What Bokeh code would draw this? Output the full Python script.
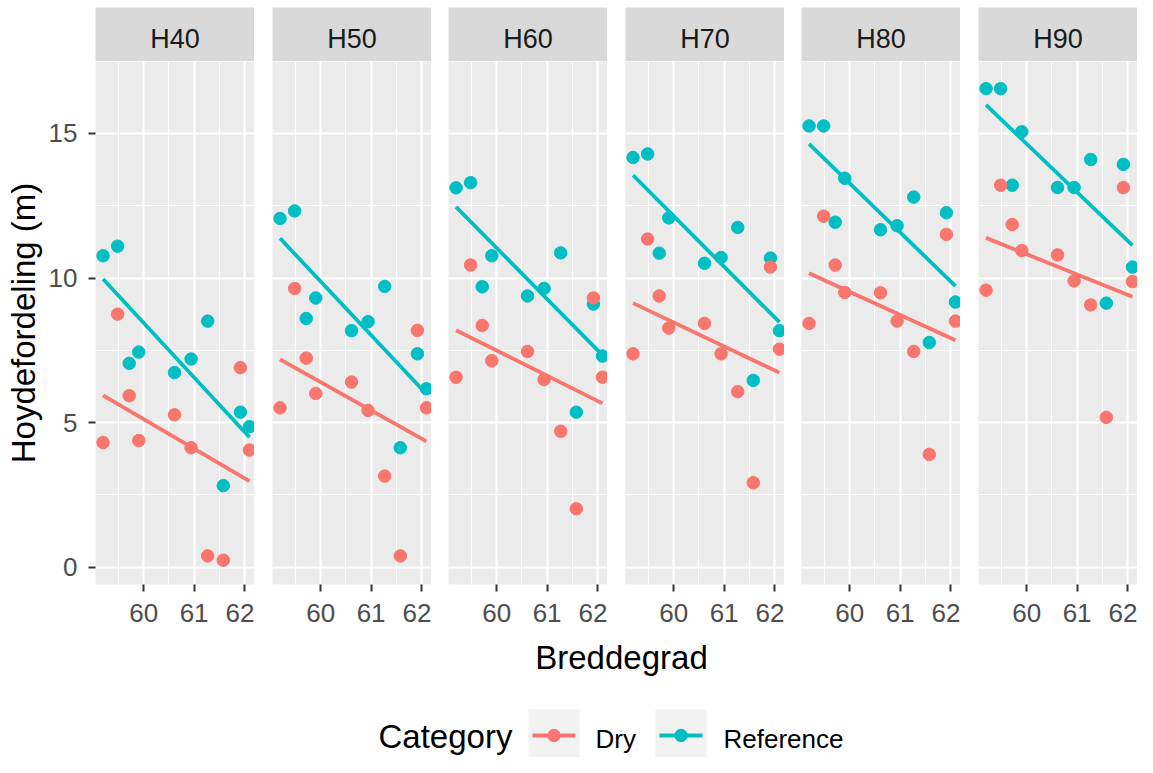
import numpy as np
from bokeh.plotting import figure
from bokeh.layouts import row, column
from bokeh.models import Range1d, FixedTicker
from bokeh.core.properties import value
from bokeh.embed import file_html
from bokeh.resources import INLINE

# ---------------- data ----------------
latitude = [59.19, 59.48, 59.71, 59.90, 60.61, 60.94, 61.27, 61.58, 61.92, 62.10]
panels = ["H40", "H50", "H60", "H70", "H80", "H90"]
categories = ["Dry", "Reference"]

dry_H40 = [4.31, 8.75, 5.93, 4.38, 5.27, 4.13, 0.39, 0.24, 6.90, 4.05]
ref_H40 = [10.77, 11.10, 7.05, 7.44, 6.73, 7.20, 8.51, 2.82, 5.36, 4.86]
dry_H50 = [5.51, 9.64, 7.23, 6.01, 6.40, 5.42, 3.15, 0.39, 8.19, 5.51]
ref_H50 = [12.06, 12.32, 8.60, 9.31, 8.18, 8.49, 9.71, 4.13, 7.38, 6.17]
dry_H60 = [6.57, 10.45, 8.36, 7.14, 7.46, 6.49, 4.70, 2.02, 9.31, 6.57]
ref_H60 = [13.12, 13.30, 9.70, 10.77, 9.38, 9.64, 10.87, 5.36, 9.10, 7.30]
dry_H70 = [7.38, 11.35, 9.38, 8.27, 8.43, 7.38, 6.07, 2.92, 10.38, 7.54]
ref_H70 = [14.17, 14.29, 10.86, 12.08, 10.51, 10.71, 11.75, 6.46, 10.69, 8.18]
dry_H80 = [8.43, 12.14, 10.45, 9.50, 9.49, 8.51, 7.46, 3.90, 11.51, 8.51]
ref_H80 = [15.26, 15.26, 11.93, 13.45, 11.67, 11.81, 12.80, 7.77, 12.26, 9.17]
dry_H90 = [9.58, 13.21, 11.85, 10.95, 10.80, 9.90, 9.07, 5.18, 13.13, 9.88]
ref_H90 = [16.55, 16.55, 13.21, 15.06, 13.13, 13.13, 14.10, 9.13, 13.93, 10.38]

dry_series = [dry_H40, dry_H50, dry_H60, dry_H70, dry_H80, dry_H90]
ref_series = [ref_H40, ref_H50, ref_H60, ref_H70, ref_H80, ref_H90]

x_ticks = [60, 61, 62]
y_ticks = [0, 5, 10, 15]

# ---------------- style ----------------
FONT = "Liberation Sans"
DRY = "#F8766D"
REF = "#00BFC4"
PANEL_BG = "#EBEBEB"
STRIP_BG = "#D9D9D9"
X_RANGE = (59.04, 62.2)
Y_RANGE = (-0.6, 17.49)
FW = 159
FH = 523
STRIP_H = 54
BOTTOM_BORDER = 52
lefts = [95, 18, 17, 18, 17, 18]
B_TOP = 7 + STRIP_H + FH + BOTTOM_BORDER  # page y where the bottom strip starts


def add_fit(p, x, y, color):
    x = np.asarray(x, dtype=float)
    y = np.asarray(y, dtype=float)
    slope, icpt = np.polyfit(x, y, 1)
    xs = np.array([x.min(), x.max()])
    p.line(xs, slope * xs + icpt, line_color=color, line_width=3.8)


cols = []
for i, name in enumerate(panels):
    bl = lefts[i]
    br = 0

    # strip
    s = figure(frame_width=FW, frame_height=STRIP_H, x_range=Range1d(0, 1), y_range=Range1d(0, 1),
               x_axis_location=None, y_axis_location=None, toolbar_location=None,
               output_backend="svg", title=None,
               min_border_left=bl, min_border_right=br, min_border_top=7, min_border_bottom=0)
    s.grid.visible = False
    s.background_fill_color = STRIP_BG
    s.border_fill_color = "white"
    s.outline_line_color = None
    s.text(x=[0.5], y=[0.42], text=[name], text_align="center", text_baseline="middle",
           text_font=value(FONT), text_font_size="27px", text_color="#1A1A1A")

    # panel
    p = figure(frame_width=FW, frame_height=FH, x_range=Range1d(*X_RANGE), y_range=Range1d(*Y_RANGE),
               y_axis_location="left" if i == 0 else None, toolbar_location=None,
               output_backend="svg", title=None,
               min_border_left=bl, min_border_right=br, min_border_top=0,
               min_border_bottom=BOTTOM_BORDER)
    p.background_fill_color = PANEL_BG
    p.border_fill_color = "white"
    p.outline_line_color = None

    xt = FixedTicker(ticks=x_ticks, minor_ticks=[59.5, 60.5, 61.5])
    yt = FixedTicker(ticks=y_ticks, minor_ticks=[2.5, 7.5, 12.5])
    p.xaxis.ticker = xt
    p.xgrid.ticker = xt
    p.ygrid.ticker = yt
    if i == 0:
        p.yaxis.ticker = yt
        p.yaxis.axis_label = "Hoydefordeling (m)"
        p.yaxis.axis_label_text_font = FONT
        p.yaxis.axis_label_text_font_size = "33px"
        p.yaxis.axis_label_text_font_style = "normal"
        p.yaxis.axis_label_text_color = "black"
        p.yaxis.axis_label_standoff = 4
        p.yaxis.major_label_standoff = 11

    for ax in p.axis:
        ax.axis_line_color = None
        ax.major_tick_line_color = "#333333"
        ax.major_tick_line_width = 2
        ax.major_tick_out = 7
        ax.major_tick_in = 0
        ax.minor_tick_line_color = None
        ax.major_label_text_font = FONT
        ax.major_label_text_font_size = "26px"
        ax.major_label_text_color = "#4D4D4D"
    p.xaxis.major_label_standoff = 12

    for g in p.grid:
        g.grid_line_color = "white"
        g.grid_line_width = 2.2
        g.minor_grid_line_color = "white"
        g.minor_grid_line_width = 1.2

    p.scatter(latitude, ref_series[i], size=12.5, color=REF)
    p.scatter(latitude, dry_series[i], size=12.5, color=DRY)
    add_fit(p, latitude, dry_series[i], DRY)
    add_fit(p, latitude, ref_series[i], REF)

    cols.append(column(s, p))

# bottom: x-axis title and legend (coordinates in page pixels)
B_H = 757 - B_TOP
b = figure(frame_width=1137, frame_height=B_H, x_range=Range1d(0, 1137), y_range=Range1d(757, B_TOP),
           x_axis_location=None, y_axis_location=None, toolbar_location=None,
           output_backend="svg", title=None, min_border=0)
b.grid.visible = False
b.outline_line_color = None
b.background_fill_color = "white"
b.border_fill_color = "white"

b.text(x=[621], y=[657], text=["Breddegrad"], text_align="center", text_baseline="middle",
       text_font=value(FONT), text_font_size="33px", text_color="black")
b.text(x=[378], y=[736], text=["Category"], text_align="left", text_baseline="middle",
       text_font=value(FONT), text_font_size="33px", text_color="black")

key_left = [528, 655]
key_colors = [DRY, REF]
label_x = [595, 723]
for kl, kc, lx, lab in zip(key_left, key_colors, label_x, categories):
    b.quad(left=[kl], right=[kl + 51], top=[709], bottom=[760], fill_color="#F2F2F2", line_color=None)
    b.line([kl + 4, kl + 47], [735, 735], line_color=kc, line_width=3.8)
    b.scatter([kl + 25.5], [735], size=12.5, color=kc)
    b.text(x=[lx], y=[738], text=[lab], text_align="left", text_baseline="middle",
           text_font=value(FONT), text_font_size="26px", text_color="black")

layout = column(row(*cols), b)

open("out.html", "w").write(file_html(layout, INLINE))
